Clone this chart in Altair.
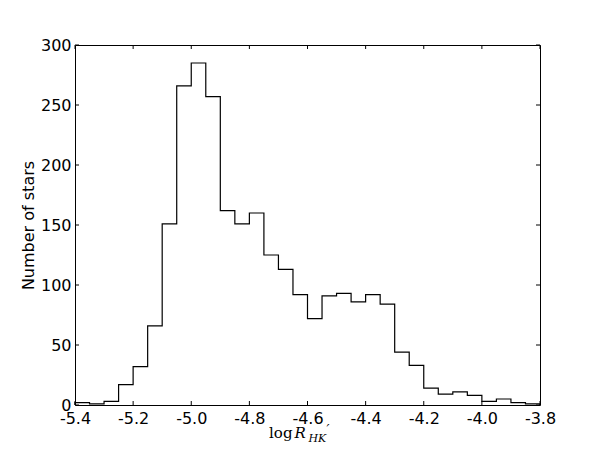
import altair as alt
import pandas as pd

bin_left = [-5.40, -5.35, -5.30, -5.25, -5.20, -5.15, -5.10, -5.05,
            -5.00, -4.95, -4.90, -4.85, -4.80, -4.75, -4.70, -4.65,
            -4.60, -4.55, -4.50, -4.45, -4.40, -4.35, -4.30, -4.25,
            -4.20, -4.15, -4.10, -4.05, -4.00, -3.95, -3.90, -3.85]
counts = [2, 1, 3, 17, 32, 66, 151, 266,
          285, 257, 162, 151, 160, 125, 113, 92,
          72, 91, 93, 86, 92, 84, 44, 33,
          14, 9, 11, 8, 3, 5, 2, 1]
x_end = -3.80
x_ticks = [-5.4, -5.2, -5.0, -4.8, -4.6, -4.4, -4.2, -4.0, -3.8]
y_ticks = [0, 50, 100, 150, 200, 250, 300]

W, H = 465, 360

# outline points of the step histogram (step-after interpolation)
xs = [bin_left[0]] + bin_left + [x_end, x_end]
ys = [0] + counts + [counts[-1], 0]
step_df = pd.DataFrame({"x": xs, "y": ys, "i": list(range(len(xs)))})

xscale = alt.Scale(domain=[x_ticks[0], x_ticks[-1]], nice=False, zero=False)
yscale = alt.Scale(domain=[y_ticks[0], y_ticks[-1]], nice=False)

label_expr = "replace(format(datum.value, '.1f'), '\u2212', '-')"

line = alt.Chart(step_df).mark_line(color="black", strokeWidth=1.2, interpolate="step-after").encode(
    x=alt.X("x:Q", scale=xscale,
            axis=alt.Axis(values=x_ticks, labelExpr=label_expr, title=None, tickSize=0,
                          labelPadding=5, labelFontSize=16, labelFont="DejaVu Sans",
                          labelColor="black", domain=False, grid=False, labelFlush=False)),
    y=alt.Y("y:Q", scale=yscale,
            axis=alt.Axis(values=y_ticks, title="Number of stars", tickSize=0,
                          labelPadding=4, labelFontSize=16, labelFont="DejaVu Sans",
                          labelColor="black", titleFontSize=16, titleFont="DejaVu Sans",
                          titleFontWeight="normal", titleColor="black", titlePadding=4,
                          domain=False, grid=False)),
    order="i:O",
)

xt_df = pd.DataFrame({"t": x_ticks})
yt_df = pd.DataFrame({"t": y_ticks})

tick_style = dict(color="black", strokeWidth=1)
xb = alt.Chart(xt_df).mark_rule(**tick_style).encode(
    x=alt.X("t:Q", scale=xscale), y=alt.value(H), y2=alt.value(H - 4))
xtop = alt.Chart(xt_df).mark_rule(**tick_style).encode(
    x=alt.X("t:Q", scale=xscale), y=alt.value(0), y2=alt.value(4))
yl = alt.Chart(yt_df).mark_rule(**tick_style).encode(
    y=alt.Y("t:Q", scale=yscale), x=alt.value(0), x2=alt.value(4))
yr = alt.Chart(yt_df).mark_rule(**tick_style).encode(
    y=alt.Y("t:Q", scale=yscale), x=alt.value(W), x2=alt.value(W - 4))

title_df = pd.DataFrame({"s": ["log"], "r": ["R"], "p": ["\u2032"], "hk": ["HK"]})
t_log = alt.Chart(title_df).mark_text(font="DejaVu Serif", fontSize=15, color="black",
                                      align="right", baseline="alphabetic").encode(
    text="s:N", x=alt.value(W / 2 - 15), y=alt.value(H + 33))
t_r = alt.Chart(title_df).mark_text(font="DejaVu Serif", fontSize=15, fontStyle="italic",
                                    color="black", align="left", baseline="alphabetic").encode(
    text="r:N", x=alt.value(W / 2 - 13), y=alt.value(H + 33))
t_p = alt.Chart(title_df).mark_text(font="DejaVu Serif", fontSize=13, fontStyle="italic",
                                    color="black", align="left", baseline="alphabetic").encode(
    text="p:N", x=alt.value(W / 2 + 19), y=alt.value(H + 29))
t_hk = alt.Chart(title_df).mark_text(font="DejaVu Serif", fontSize=11, fontStyle="italic",
                                     color="black", align="left", baseline="alphabetic").encode(
    text="hk:N", x=alt.value(W / 2 + 1), y=alt.value(H + 37))

chart = alt.layer(line, xb, xtop, yl, yr, t_log, t_r, t_p, t_hk).properties(
    width=W, height=H,
    autosize=alt.AutoSizeParams(type="none"),
    padding={"left": 67, "top": 37, "right": 40, "bottom": 42},
).configure(background="white").configure_view(stroke="black", strokeWidth=1)

chart.save("out.html", embed_options={"renderer": "svg", "actions": False})
